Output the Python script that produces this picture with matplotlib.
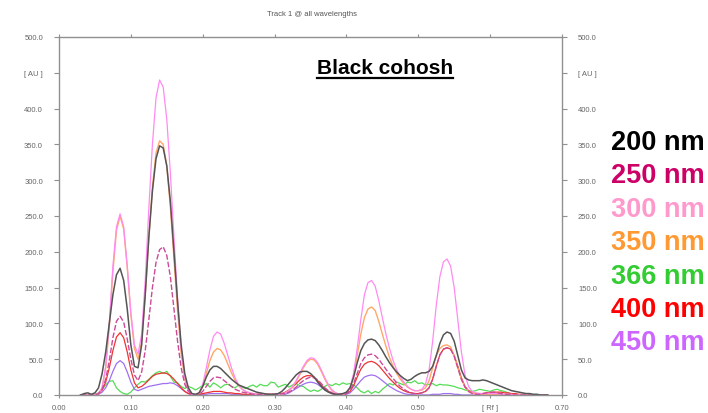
import numpy as np
import matplotlib
matplotlib.use('Agg')
import matplotlib.pyplot as plt
from matplotlib.lines import Line2D

plt.rcParams['font.family'] = ['Liberation Sans', 'DejaVu Sans']

# Rf sample positions, one densitometer reading every 0.005
rf = np.round(np.arange(0.030, 0.6801, 0.005), 3)

au_200 = [0, 2, 3, 1, 3, 10, 30, 60, 100, 140,
          168, 177, 160, 120, 70, 40, 38, 70, 140, 220,
          285, 330, 348, 345, 320, 270, 200, 130, 70, 30,
          10, 2, 1, 3, 12, 25, 35, 40, 40, 37,
          32, 27, 22, 18, 14, 12, 10, 8, 6, 4,
          3, 2, 1, 1, 1, 2, 5, 10, 16, 22,
          28, 32, 33, 33, 30, 25, 18, 12, 7, 4,
          2, 1, 1, 2, 4, 10, 25, 45, 62, 72,
          77, 78, 76, 70, 62, 53, 45, 38, 32, 27,
          23, 20, 22, 26, 29, 31, 31, 33, 40, 55,
          72, 84, 88, 86, 75, 55, 35, 24, 21, 20,
          20, 20, 21, 20, 18, 16, 14, 12, 10, 8,
          6, 5, 4, 3, 2, 2, 1, 1, 0, 0,
          0]

au_250 = [0, 0, 0, 0, 0, 2, 8, 22, 48, 80,
          103, 110, 102, 78, 50, 28, 20, 32, 62, 105,
          150, 185, 203, 207, 195, 165, 120, 75, 38, 15,
          5, 1, 0, 1, 5, 12, 19, 24, 25, 24,
          20, 16, 12, 8, 6, 4, 3, 2, 1, 1,
          1, 1, 1, 1, 1, 1, 2, 2, 4, 7,
          11, 16, 20, 23, 25, 24, 21, 16, 10, 6,
          3, 1, 1, 1, 2, 6, 16, 30, 44, 52,
          56, 57, 55, 50, 43, 36, 29, 23, 17, 12,
          8, 5, 3, 2, 2, 3, 5, 10, 22, 40,
          56, 64, 66, 64, 54, 38, 22, 11, 5, 2,
          1, 1, 2, 3, 4, 4, 3, 2, 1, 1,
          0, 0, 0, 0, 0, 0, 0, 0, 0, 0,
          0]

au_300 = [0, 0, 0, 0, 0, 2, 10, 40, 100, 180,
          235, 253, 235, 180, 115, 70, 57, 85, 160, 260,
          350, 415, 440, 430, 385, 310, 220, 135, 65, 25,
          7, 1, 0, 3, 15, 38, 63, 82, 88, 85,
          72, 55, 38, 24, 14, 8, 5, 3, 2, 1,
          1, 1, 1, 1, 1, 1, 1, 3, 6, 12,
          20, 30, 40, 48, 52, 51, 45, 35, 24, 14,
          7, 3, 1, 1, 3, 10, 30, 65, 105, 140,
          157, 160, 152, 132, 108, 85, 65, 48, 35, 25,
          18, 12, 8, 6, 6, 8, 15, 35, 75, 125,
          165, 186, 190, 180, 150, 105, 60, 28, 12, 5,
          3, 2, 2, 2, 2, 2, 2, 1, 1, 1,
          1, 0, 0, 0, 0, 0, 0, 0, 0, 0,
          0]

au_350 = [0, 0, 0, 0, 0, 2, 10, 38, 95, 172,
          230, 250, 232, 178, 112, 65, 50, 75, 140, 220,
          290, 338, 355, 350, 320, 262, 190, 118, 58, 22,
          6, 1, 0, 2, 12, 30, 48, 60, 65, 63,
          55, 43, 31, 21, 13, 8, 5, 3, 2, 1,
          1, 1, 1, 1, 1, 1, 1, 3, 6, 11,
          19, 28, 38, 46, 50, 49, 43, 33, 22, 13,
          6, 3, 1, 1, 3, 10, 28, 55, 85, 108,
          120, 123, 118, 103, 85, 68, 52, 40, 30, 22,
          16, 11, 8, 6, 6, 7, 10, 20, 38, 55,
          65, 69, 70, 67, 55, 38, 22, 11, 5, 3,
          2, 2, 1, 1, 1, 1, 1, 1, 1, 0,
          0, 0, 0, 0, 0, 0, 0, 0, 0, 0,
          0]

au_366 = [0, 0, 0, 0, 1, 3, 8, 14, 19, 20,
          10, 5, 2, 1, 4, 10, 15, 19, 18, 22,
          27, 31, 33, 30, 33, 26, 18, 17, 12, 9,
          12, 10, 7, 10, 13, 16, 11, 17, 14, 10,
          14, 15, 12, 10, 14, 11, 9, 12, 14, 11,
          15, 13, 13, 18, 17, 11, 13, 15, 11, 14,
          16, 13, 12, 8, 5, 7, 5, 8, 12, 15,
          13, 16, 14, 17, 15, 16, 14, 10, 5, 3,
          6, 2, 5, 3, 8, 12, 16, 14, 18, 16,
          14, 18, 17, 20, 16, 17, 14, 15, 16, 13,
          15, 14, 14, 13, 12, 10, 9, 7, 6, 5,
          6, 8, 7, 6, 5, 7, 8, 6, 5, 3,
          1, 0, 0, 0, 0, 0, 0, 0, 0, 0,
          0]

au_400 = [0, 0, 0, 0, 0, 2, 7, 18, 38, 62,
          81, 87, 80, 60, 35, 17, 10, 12, 16, 21,
          26, 29, 30, 31, 30, 27, 22, 16, 10, 5,
          2, 1, 0, 1, 2, 3, 4, 5, 5, 5,
          4, 3, 3, 2, 2, 1, 1, 1, 1, 1,
          1, 1, 1, 1, 1, 1, 2, 4, 7, 11,
          16, 21, 25, 27, 27, 25, 20, 14, 9, 5,
          2, 1, 1, 1, 2, 5, 13, 25, 36, 43,
          46, 47, 45, 41, 35, 29, 23, 18, 13, 9,
          6, 4, 3, 2, 2, 3, 5, 10, 22, 40,
          56, 64, 66, 64, 55, 40, 24, 12, 6, 3,
          2, 2, 2, 3, 3, 4, 4, 4, 3, 3,
          2, 2, 1, 1, 1, 0, 0, 0, 0, 0,
          0]

au_450 = [0, 0, 0, 0, 0, 1, 4, 10, 20, 33,
          44, 48, 44, 32, 18, 8, 6, 8, 10, 12,
          13, 14, 15, 16, 16, 17, 16, 13, 9, 5,
          2, 0, 0, 0, 1, 1, 2, 2, 2, 2,
          2, 2, 1, 1, 1, 1, 0, 0, 0, 0,
          0, 0, 0, 0, 0, 0, 1, 1, 3, 6,
          9, 12, 15, 17, 18, 17, 15, 11, 7, 4,
          2, 1, 0, 0, 1, 3, 8, 14, 20, 25,
          27, 28, 27, 24, 20, 16, 12, 9, 6, 4,
          2, 1, 1, 0, 0, 0, 0, 0, 1, 1,
          1, 2, 2, 2, 1, 1, 0, 0, 0, 0,
          0, 0, 1, 1, 1, 1, 1, 0, 0, 0,
          0, 0, 0, 0, 0, 0, 0, 0, 0, 0,
          0]

wavelengths = ['200 nm', '250 nm', '300 nm', '350 nm', '366 nm', '400 nm', '450 nm']
legend_colors = ['#000000', '#CC0066', '#FF99CC', '#FF9933', '#33CC33', '#FF0000', '#CC66FF']

yticks = [0, 50, 100, 150, 200, 250, 300, 350, 400, 450, 500]
ylabels = ['0.0', '50.0', '100.0', '150.0', '200.0', '250.0', '300.0', '350.0', '400.0', '[ AU ]', '500.0']
xticks = [0.0, 0.1, 0.2, 0.3, 0.4, 0.5, 0.6, 0.7]
xlabels = ['0.00', '0.10', '0.20', '0.30', '0.40', '0.50', '[ Rf ]', '0.70']

fig = plt.figure(figsize=(7.08, 4.14), dpi=100)
ax = fig.add_axes([59/708, 18/414, 503/708, 358/414])

# draw order: faint traces underneath, 200 nm on top
ax.plot(rf, au_366, color='#55DD55', lw=0.9)
ax.plot(rf, au_450, color='#A070F0', lw=0.9)
ax.plot(rf, au_400, color='#EE3333', lw=0.9)
ax.plot(rf, au_350, color='#FFA868', lw=1.0)
ax.plot(rf, au_300, color='#FF8AF2', lw=0.9)
ax.plot(rf, au_250, color='#CC4A98', lw=1.0, ls=(0, (4, 1.5)))
ax.plot(rf, au_200, color='#555555', lw=1.1)

ax.set_xlim(0, 0.7)
ax.set_ylim(0, 500)
for s in ax.spines.values():
    s.set_color('#909090')
    s.set_linewidth(1.0)

ax.set_yticks(yticks)
ax.set_yticklabels(ylabels)
ax.set_xticks(xticks)
ax.set_xticklabels(xlabels)
ax.tick_params(axis='y', which='both', left=True, right=True, labelleft=True, labelright=True,
               direction='out', length=3.5, width=0.8, color='#909090', pad=8,
               labelsize=5.5, labelcolor='#666666')
ax.tick_params(axis='x', which='both', bottom=True, top=True, labelbottom=True, labeltop=False,
               direction='out', length=2.5, width=0.8, color='#909090', pad=4,
               labelsize=5.5, labelcolor='#666666')

fig.text(312/708, 1 - 15/414, 'Track 1 @ all wavelengths', ha='center', va='center',
         fontsize=5.5, color='#555555')

name = fig.text(317/708, 1 - 74/414, 'Black cohosh', ha='left', va='baseline',
                fontsize=15, fontweight='bold', color='black')

for i, (lab, col) in enumerate(zip(wavelengths, legend_colors)):
    fig.text(611/708, 1 - (143 + i * 33.4)/414, lab, ha='left', va='center',
             fontsize=19.5, fontweight='bold', color=col)

# underline the sample name
fig.canvas.draw()
bb = name.get_window_extent()
uy = 1 - 79/414
fig.add_artist(Line2D([bb.x0/708, bb.x1/708], [uy, uy], color='black', lw=1.6,
                      transform=fig.transFigure))

fig.savefig('out.png', dpi=100)
